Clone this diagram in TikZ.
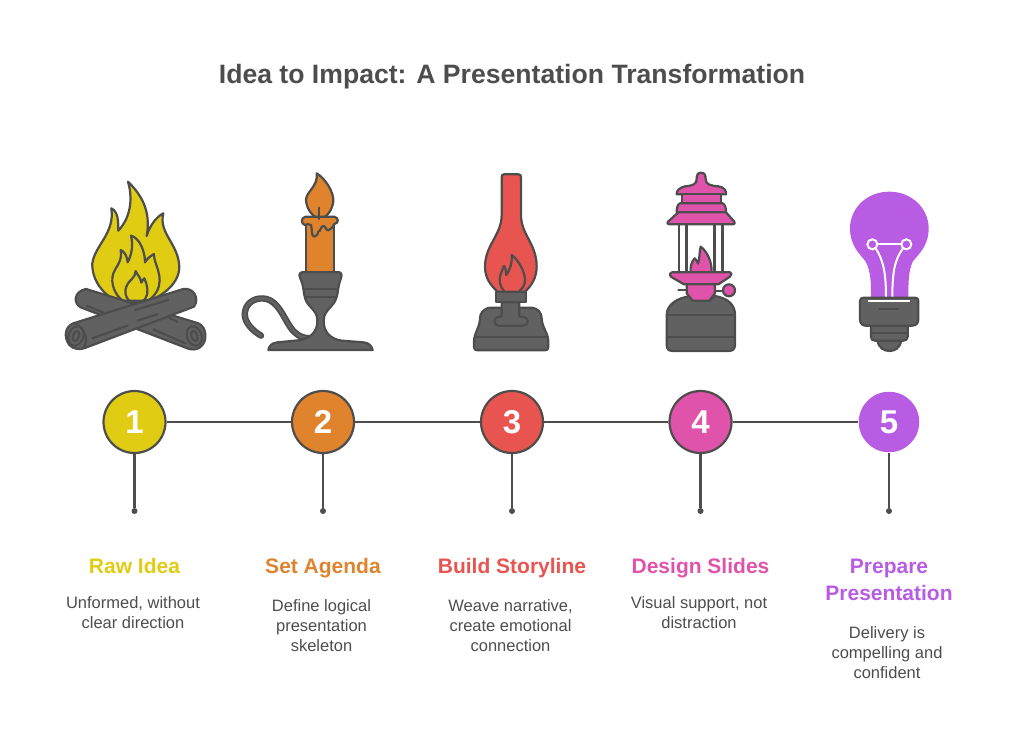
\documentclass[tikz,border=0pt]{standalone}
\usepackage{fontspec}
\setmainfont{Liberation Sans}
\definecolor{ink}{HTML}{4D4D4D}
\definecolor{dk}{HTML}{616161}
\definecolor{cy}{HTML}{E0CC12}
\definecolor{co}{HTML}{E0832D}
\definecolor{cr}{HTML}{E8544F}
\definecolor{cp}{HTML}{E053AB}
\definecolor{cv}{HTML}{B85CE4}
\tikzset{
 ol/.style={draw=ink,line width=2.2pt,line join=round,line cap=round},
 dkf/.style={ol,fill=dk},
 num/.style={circle,draw=ink,line width=2.2pt,minimum size=62pt,inner sep=0pt,text=white,font=\fontsize{33}{33}\selectfont\bfseries},
 head/.style={font=\fontsize{21}{26.5}\selectfont\bfseries,align=center,inner sep=0pt,anchor=base},
 body/.style={font=\fontsize{16.5}{20.2}\selectfont,text=ink,align=center,inner sep=0pt,anchor=north},
 pin/.style={circle,fill=ink,inner sep=0pt,minimum size=6pt},
 lnk/.style={draw=ink,line width=2.2pt}
}
\begin{document}
\begin{tikzpicture}[x=1pt,y=-1pt]
\useasboundingbox (0,0) rectangle (1024,741);
\node[font=\fontsize{26.6}{30}\selectfont\bfseries,text=ink,inner sep=0pt,anchor=base] (title) at (512,84) {Idea to Impact: A Presentation Transformation};

% fire
\begin{scope}[shift={(50,170)},x=0.3333pt,y=-0.3333pt]
\path[ol,fill=cy] (234,35) .. controls (270,70) and (305,120) .. (290,198) .. controls (300,165) and (320,140) .. (340,130) .. controls (325,190) and (385,220) .. (388,290) .. controls (388,340) and (340,375) .. (300,392) -- (200,392) .. controls (160,375) and (125,330) .. (127,280) .. controls (135,225) and (195,190) .. (184,115) .. controls (205,125) and (205,155) .. (205,182) .. controls (240,145) and (250,90) .. (234,35) -- cycle;
\path[ol] (243,197) .. controls (270,205) and (285,245) .. (285,277) .. controls (292,265) and (302,258) .. (312,252) .. controls (310,280) and (345,320) .. (320,365) .. controls (312,378) and (305,385) .. (295,392);
\path[ol] (218,392) .. controls (195,375) and (180,340) .. (190,310) .. controls (197,290) and (218,275) .. (212,240) .. controls (225,245) and (232,262) .. (233,277) .. controls (245,255) and (250,225) .. (243,197);
\path[ol] (257,303) .. controls (262,315) and (272,322) .. (274,338) .. controls (277,332) and (280,328) .. (283,325) .. controls (292,345) and (298,370) .. (285,388) .. controls (275,400) and (245,400) .. (235,390) .. controls (220,370) and (225,345) .. (245,328) .. controls (252,322) and (257,312) .. (257,303) -- cycle;
% back log
\path[dkf] (108,357) -- (445,460) .. controls (470,470) and (475,515) .. (450,532) .. controls (438,540) and (425,540) .. (412,535) -- (92,412) .. controls (70,400) and (70,365) .. (108,357) -- cycle;
\path[ol] (110,407) -- (160,428);
\path[ol] (310,478) -- (405,520);
\path[ol] (355,442) -- (382,456);
\path[ol,rotate around={20:(433,498)}] (433,498) ellipse [x radius=22,y radius=30];
\path[ol,rotate around={20:(433,498)}] (433,498) ellipse [x radius=9,y radius=16];
% front log
\path[dkf] (70,460) -- (400,357) .. controls (430,352) and (450,385) .. (432,410) -- (105,534) .. controls (90,540) and (70,538) .. (58,525) .. controls (40,500) and (45,470) .. (70,460) -- cycle;
\path[ol] (255,420) -- (355,390);
\path[ol] (262,452) -- (322,433);
\path[ol] (128,505) -- (232,467);
\path[ol] (75,460) .. controls (105,475) and (118,510) .. (100,535);
\path[ol,rotate around={-20:(78,498)}] (78,498) ellipse [x radius=22,y radius=30];
\path[ol,rotate around={-20:(78,498)}] (78,498) ellipse [x radius=9,y radius=16];
\end{scope}

% candle
\begin{scope}[shift={(235,165)},x=0.3333pt,y=-0.3333pt]
\path[ol,fill=co] (213,170) rectangle (297,322);
\path[ol,fill=co] (245,25) .. controls (270,40) and (297,80) .. (295,110) .. controls (292,135) and (275,158) .. (255,162) .. controls (235,158) and (215,135) .. (213,105) .. controls (213,80) and (250,65) .. (245,25) -- cycle;
\path[ol,fill=co] (212,155) -- (298,155) .. controls (312,158) and (312,175) .. (298,177) .. controls (292,185) and (290,195) .. (280,196) .. controls (272,196) and (272,183) .. (265,183) .. controls (256,183) and (258,200) .. (250,200) .. controls (247,205) and (248,215) .. (238,215) .. controls (228,215) and (232,190) .. (228,180) .. controls (222,178) and (215,175) .. (210,180) .. controls (198,178) and (196,158) .. (212,155) -- cycle;
\path[ol] (253,128) -- (253,162);
\path[draw=ink,line width=6.4pt,line cap=round] (78,512) .. controls (50,495) and (25,470) .. (30,440) .. controls (35,410) and (65,395) .. (95,402) .. controls (130,412) and (145,455) .. (165,485) .. controls (178,505) and (195,518) .. (222,520);
\path[draw=dk,line width=3pt,line cap=round] (78,512) .. controls (50,495) and (25,470) .. (30,440) .. controls (35,410) and (65,395) .. (95,402) .. controls (130,412) and (145,455) .. (165,485) .. controls (178,505) and (195,518) .. (222,520);
\path[dkf] (200,322) -- (314,322) .. controls (322,325) and (320,335) .. (316,345) .. controls (308,365) and (310,385) .. (303,402) .. controls (295,425) and (268,435) .. (266,465) .. controls (265,500) and (285,522) .. (320,527) -- (385,532) .. controls (405,534) and (410,545) .. (413,555) -- (100,555) .. controls (102,545) and (108,534) .. (128,532) -- (190,526) .. controls (225,522) and (250,500) .. (247,462) .. controls (245,435) and (218,425) .. (211,402) .. controls (205,385) and (207,365) .. (198,345) .. controls (193,335) and (190,325) .. (200,322) -- cycle;
\path[ol] (210,372) -- (303,372);
\path[ol] (210,395) -- (303,395);
\end{scope}

% lamp
\begin{scope}[shift={(460,165)},x=0.3333pt,y=-0.3333pt]
\path[ol,fill=cr] (132,28) -- (176,28) .. controls (182,28) and (183,32) .. (183,38) -- (183,150) .. controls (183,210) and (230,235) .. (230,305) .. controls (230,340) and (212,365) .. (195,380) -- (112,380) .. controls (92,360) and (75,340) .. (75,305) .. controls (75,240) and (125,210) .. (125,150) -- (125,38) .. controls (125,32) and (126,28) .. (132,28) -- cycle;
\path[ol] (132,378) .. controls (120,365) and (115,345) .. (122,328) .. controls (125,318) and (130,308) .. (132,303) .. controls (137,310) and (139,320) .. (139,330) .. controls (150,315) and (158,290) .. (155,270) .. controls (175,285) and (195,320) .. (195,345) .. controls (195,360) and (188,370) .. (178,378);
\path[dkf] (130,428) -- (92,428) .. controls (70,430) and (60,445) .. (60,460) .. controls (60,485) and (42,505) .. (42,530) -- (42,547) .. controls (42,553) and (46,556) .. (52,556) -- (255,556) .. controls (261,556) and (265,553) .. (265,547) -- (265,530) .. controls (265,505) and (245,485) .. (245,460) .. controls (245,445) and (235,430) .. (215,428) -- (175,428) -- cycle;
\path[dkf] (125,412) -- (125,455) -- (115,455) .. controls (100,458) and (100,482) .. (115,482) -- (190,482) .. controls (208,482) and (208,458) .. (190,455) -- (178,455) -- (178,412) -- cycle;
\path[dkf] (108,380) rectangle (198,412);
\path[ol] (44,517) -- (263,517);
\path[fill=dk] (128,425) rectangle (175,460);
\end{scope}

% lantern
\begin{scope}[shift={(650,165)},x=0.3333pt,y=-0.3333pt]
\foreach \rx in {87,110,193,218}{
 \path[draw=ink,line width=2.6pt] (\rx,175) -- (\rx,325);
}
\path[ol,fill=cp] (122,322) .. controls (120,305) and (125,290) .. (134,280) .. controls (140,285) and (142,290) .. (144,296) .. controls (150,280) and (147,262) .. (152,245) .. controls (172,260) and (186,290) .. (185,322) -- cycle;
\path[ol,fill=cp] (153,23) .. controls (165,23) and (167,32) .. (167,42) .. controls (167,58) and (180,62) .. (205,64) .. controls (222,66) and (230,78) .. (228,88) -- (80,88) .. controls (78,78) and (88,68) .. (105,64) .. controls (128,62) and (140,58) .. (140,42) .. controls (140,32) and (142,23) .. (153,23) -- cycle;
\path[ol,fill=cp] (95,88) rectangle (212,115);
\path[ol,fill=cp] (90,115) -- (218,115) .. controls (226,118) and (228,130) .. (228,142) -- (80,142) .. controls (80,130) and (82,118) .. (90,115) -- cycle;
\path[ol,fill=cp] (85,142) -- (228,142) -- (253,170) .. controls (256,175) and (254,178) .. (248,178) -- (58,178) .. controls (52,178) and (50,174) .. (54,170) -- cycle;
\path[ol,fill=cp] (66,322) -- (240,322) .. controls (246,322) and (246,330) .. (240,335) -- (205,358) -- (102,358) -- (64,336) .. controls (58,330) and (58,322) .. (66,322) -- cycle;
\path[ol] (85,375) -- (110,375);
\path[ol] (195,378) -- (220,378);
\path[ol,fill=cp] (237,376) circle [radius=18];
\path[dkf] (125,393) -- (130,407) -- (175,407) -- (195,393) .. controls (235,400) and (255,420) .. (255,450) -- (255,540) .. controls (255,552) and (248,558) .. (236,558) -- (68,558) .. controls (56,558) and (50,552) .. (50,540) -- (50,450) .. controls (50,420) and (80,398) .. (125,393) -- cycle;
\path[ol,fill=cp] (110,358) -- (195,358) -- (195,385) -- (178,407) -- (128,407) -- (110,385) -- cycle;
\path[ol] (50,450) -- (255,450);
\path[ol] (50,515) -- (255,515);
\end{scope}

% bulb
\begin{scope}[shift={(835,180)},x=0.3333pt,y=-0.3333pt]
\path[fill=cv] (108,354) .. controls (108,310) and (108,275) .. (92,245) .. controls (78,225) and (45,200) .. (45,145) .. controls (45,85) and (95,35) .. (163,35) .. controls (230,35) and (281,85) .. (281,145) .. controls (281,200) and (248,225) .. (233,245) .. controls (220,275) and (220,310) .. (220,354) -- cycle;
\path[draw=white,line width=2pt] (127,193) -- (199,193);
\path[draw=white,line width=2pt] (122,205) .. controls (145,240) and (153,280) .. (153,352);
\path[draw=white,line width=2pt] (204,205) .. controls (178,240) and (172,280) .. (172,352);
\path[draw=white,line width=2pt,fill=cv] (112,193) circle [radius=15];
\path[draw=white,line width=2pt,fill=cv] (214,193) circle [radius=15];
\path[dkf] (128,482) .. controls (130,505) and (150,513) .. (163,513) .. controls (178,513) and (196,505) .. (198,482) -- cycle;
\path[dkf] (108,437) -- (218,437) -- (218,470) .. controls (218,478) and (212,482) .. (205,482) -- (120,482) .. controls (112,482) and (108,478) .. (108,470) -- cycle;
\path[ol] (108,458) -- (218,458);
\path[dkf] (86,353) -- (240,353) .. controls (247,353) and (250,357) .. (250,363) -- (250,418) .. controls (250,430) and (243,437) .. (232,437) -- (92,437) .. controls (82,437) and (75,430) .. (75,418) -- (75,363) .. controls (75,357) and (79,353) .. (86,353) -- cycle;
\path[draw=white,line width=2pt] (100,362) -- (226,362);
\path[ol] (133,387) -- (190,387);
\end{scope}

% timeline
\node[pin] (d1) at (134.5,511) {};
\node[pin] (d2) at (323,511) {};
\node[pin] (d3) at (512,511) {};
\node[pin] (d4) at (700.5,511) {};
\node[pin] (d5) at (889,511) {};
\node[num,fill=cy] (n1) at (134.5,422) {1};
\node[num,fill=co] (n2) at (323,422) {2};
\node[num,fill=cr] (n3) at (512,422) {3};
\node[num,fill=cp] (n4) at (700.5,422) {4};
\node[num,fill=cv,draw=none,minimum size=60.5pt] (n5) at (889,422) {5};
\draw[lnk] (n1)--(n2);\draw[lnk] (n2)--(n3);\draw[lnk] (n3)--(n4);\draw[lnk] (n4)--(n5);
\draw[lnk] (n1)--(d1);\draw[lnk] (n2)--(d2);\draw[lnk] (n3)--(d3);\draw[lnk] (n4)--(d4);\draw[lnk] (n5)--(d5);

% labels
\node[head,text=cy] (h1) at (134.5,573) {Raw Idea};
\node[head,text=co] (h2) at (323,573) {Set Agenda};
\node[head,text=cr] (h3) at (512,573) {Build Storyline};
\node[head,text=cp] (h4) at (700.5,573) {Design Slides};
\node[head,text=cv] (h5) at (889,600) {Prepare\\Presentation};
\node[body] (b1) at (133,596) {Unformed, without\\clear direction};
\node[body] (b2) at (321.5,599) {Define logical\\presentation\\skeleton};
\node[body] (b3) at (510.5,599) {Weave narrative,\\create emotional\\connection};
\node[body] (b4) at (699,596) {Visual support, not\\distraction};
\node[body] (b5) at (887,626) {Delivery is\\compelling and\\confident};
\end{tikzpicture}
\end{document}
